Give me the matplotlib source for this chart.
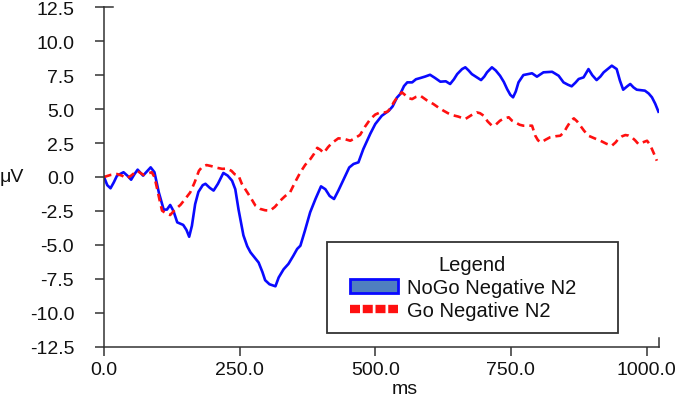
import matplotlib
matplotlib.use("Agg")
import matplotlib.pyplot as plt
from matplotlib.patches import Patch, Rectangle
from matplotlib.lines import Line2D
from matplotlib.ticker import FormatStrFormatter

plt.rcParams['font.family'] = ['Liberation Sans', 'DejaVu Sans']
plt.rcParams['axes.unicode_minus'] = False
plt.rcParams['ytick.major.pad'] = 15
plt.rcParams['xtick.major.pad'] = 4

series_names = ["NoGo Negative N2", "Go Negative N2"]
x_ticks = [0.0, 250.0, 500.0, 750.0, 1000.0]
y_ticks = [-12.5, -10.0, -7.5, -5.0, -2.5, 0.0, 2.5, 5.0, 7.5, 10.0, 12.5]

nogo_t = [0, 6, 12, 18, 24, 36, 43, 50, 56, 62, 72, 80, 86, 93, 101, 110, 116, 122, 128, 135,
          146, 152, 157, 162, 168, 174, 182, 187, 195, 202, 210, 220, 228, 236, 242, 248, 257,
          264, 270, 285, 292, 297, 305, 316, 322, 331, 340, 349, 356, 362, 370, 380, 390, 400,
          408, 416, 424, 432, 442, 452, 460, 469, 478, 485, 491, 500, 512, 525, 532, 540, 546,
          553, 559, 568, 575, 583, 592, 601, 610, 620, 630, 638, 645, 651, 660, 666, 672, 678,
          687, 695, 701, 706, 715, 722, 730, 737, 743, 749, 754, 759, 764, 773, 789, 798, 810,
          826, 838, 847, 855, 862, 869, 875, 884, 893, 900, 908, 915, 921, 936, 945, 951, 957,
          965, 970, 976, 982, 997, 1004, 1010, 1016, 1022]
nogo_v = [0.0, -0.6, -0.83, -0.4, 0.1, 0.35, 0.1, -0.2, 0.2, 0.54, 0.1, 0.45, 0.71, 0.35, -1.13,
          -2.4, -2.4, -2.06, -2.5, -3.34, -3.53, -3.9, -4.4, -3.6, -2.0, -1.1, -0.6, -0.5, -0.8,
          -1.0, -0.5, 0.3, 0.1, -0.27, -0.9, -2.4, -4.3, -5.1, -5.55, -6.3, -7.0, -7.6, -7.9,
          -8.05, -7.4, -6.8, -6.4, -5.8, -5.3, -5.06, -4.0, -2.6, -1.6, -0.69, -0.9, -1.4, -1.62,
          -1.0, -0.15, 0.7, 0.96, 1.08, 2.06, 2.67, 3.2, 3.9, 4.51, 4.88, 5.2, 5.85, 6.11, 6.7,
          6.97, 6.97, 7.2, 7.29, 7.4, 7.53, 7.3, 7.02, 7.05, 6.85, 7.2, 7.58, 7.95, 8.08, 7.85,
          7.58, 7.35, 7.14, 7.4, 7.71, 8.08, 7.85, 7.46, 7.0, 6.48, 6.05, 5.87, 6.3, 6.97, 7.51,
          7.64, 7.39, 7.71, 7.75, 7.46, 6.97, 6.8, 6.68, 6.95, 7.22, 7.34, 7.95, 7.5, 7.14, 7.4,
          7.71, 8.2, 7.95, 7.1, 6.43, 6.7, 6.85, 6.6, 6.43, 6.36, 6.15, 5.87, 5.4, 4.81]

go_t = [0, 12, 24, 33, 42, 50, 61, 67, 73, 80, 88, 93, 98, 103, 107, 115, 122, 131, 141, 150,
        159, 167, 175, 181, 189, 198, 208, 218, 227, 235, 241, 248, 254, 262, 270, 279, 288,
        297, 306, 315, 325, 334, 343, 352, 362, 371, 380, 387, 393, 399, 405, 413, 420, 432,
        443, 454, 462, 472, 481, 491, 500, 509, 516, 522, 529, 534, 541, 549, 556, 562, 568,
        575, 583, 595, 607, 617, 626, 634, 641, 653, 666, 677, 687, 693, 700, 707, 715, 722,
        730, 737, 746, 752, 758, 766, 773, 789, 795, 800, 806, 814, 822, 832, 841, 848, 853,
        860, 866, 872, 878, 885, 893, 904, 915, 926, 936, 943, 948, 955, 961, 967, 973, 979,
        985, 993, 1001, 1006, 1010, 1015, 1019]
go_v = [0.0, 0.15, 0.22, 0.1, -0.1, 0.1, 0.46, 0.3, 0.15, 0.25, 0.35, 0.0, -0.88, -1.8, -2.48,
        -2.7, -2.8, -2.4, -2.05, -1.6, -1.13, -0.4, 0.46, 0.75, 0.88, 0.8, 0.68, 0.6, 0.62,
        0.45, 0.2, 0.1, -0.5, -1.0, -1.5, -2.1, -2.35, -2.45, -2.48, -2.2, -1.74, -1.4, -1.13,
        -0.4, 0.35, 0.9, 1.3, 1.7, 2.15, 2.0, 1.77, 2.2, 2.5, 2.85, 2.8, 2.67, 2.85, 3.1, 3.7,
        4.27, 4.6, 4.76, 4.75, 4.8, 5.1, 5.5, 5.9, 6.24, 6.0, 5.8, 5.74, 5.9, 5.99, 5.65, 5.38,
        5.1, 4.88, 4.7, 4.57, 4.45, 4.27, 4.55, 4.76, 4.7, 4.51, 4.1, 3.78, 3.85, 4.15, 4.3,
        4.4, 4.15, 4.03, 3.85, 3.78, 3.78, 3.04, 2.7, 2.55, 2.75, 2.92, 3.0, 3.04, 3.3, 3.66,
        4.1, 4.32, 4.1, 3.78, 3.4, 3.04, 2.85, 2.67, 2.45, 2.3, 2.55, 2.8, 3.0, 3.09, 3.05,
        2.92, 2.7, 2.43, 2.55, 2.67, 2.4, 2.06, 1.6, 1.2]

W, H = 685, 402
fig = plt.figure(figsize=(W / 100, H / 100), dpi=100)
ax = fig.add_axes([104 / W, 1 - 347.7 / H, (659 - 104) / W, (347.7 - 8.3) / H])

spine_col = '#333333'
txt_col = '#111111'
ax.plot(nogo_t, nogo_v, color='#0a0aff', lw=1.9, solid_joinstyle='round')
ax.plot(go_t, go_v, color='#ff1010', lw=1.9, dashes=(2.9, 1.9))

ax.set_xlim(0, 1023)
ax.set_ylim(-12.5, 12.5)
ax.set_xticks(x_ticks)
ax.set_yticks(y_ticks)
ax.xaxis.set_major_formatter(FormatStrFormatter('%.1f'))
ax.yaxis.set_major_formatter(FormatStrFormatter('%.1f'))
ax.tick_params(axis='both', direction='out', length=6.5, width=1.1, color=spine_col,
               labelsize=14, labelcolor=txt_col)
ax.yaxis.set_tick_params(pad=15)
ax.xaxis.set_tick_params(pad=4)
for s in ['top', 'right']:
    ax.spines[s].set_visible(False)
for s in ['left', 'bottom']:
    ax.spines[s].set_color(spine_col)
    ax.spines[s].set_linewidth(1.1)

# end caps
ax.plot([1, 1], [0, 9 / 339.4], transform=ax.transAxes, clip_on=False, color=spine_col, lw=1.1)
ax.plot([0, 9 / 555], [1, 1], transform=ax.transAxes, clip_on=False, color=spine_col, lw=1.1)

fig.text(12 / W, 1 - 178 / H, 'μV', ha='center', va='center', fontsize=14, color=txt_col)
fig.text(405 / W, 1 - 390 / H, 'ms', ha='center', va='center', fontsize=14, color=txt_col)

# legend frame
ax.add_patch(Rectangle((327 / W, 1 - 334 / H), (618 - 327) / W, (334 - 243) / H,
                       transform=fig.transFigure, facecolor='white', clip_on=False,
                       edgecolor=spine_col, lw=1.3, zorder=4))

handles = [Patch(facecolor='#4f7fc0', edgecolor='#0a0aff', lw=2),
           Line2D([], [], color='#ff1010', lw=6, dashes=(1.2, 0.33),
                  dash_capstyle='butt', solid_capstyle='butt')]
leg = ax.legend(handles, series_names, title='Legend', fontsize=14.5, title_fontsize=14.5,
                loc='upper left', mode='expand',
                bbox_to_anchor=(340 / W, 1 - 246 / H, (605 - 340) / W, 0.0),
                bbox_transform=fig.transFigure, borderaxespad=0, borderpad=0.5,
                handlelength=2.4, handleheight=0.65, handletextpad=0.45, labelspacing=0.2,
                frameon=False)
leg.get_title().set_color(txt_col)
for t in leg.get_texts():
    t.set_color(txt_col)
leg.set_zorder(6)

fig.savefig('out.png', dpi=100)
